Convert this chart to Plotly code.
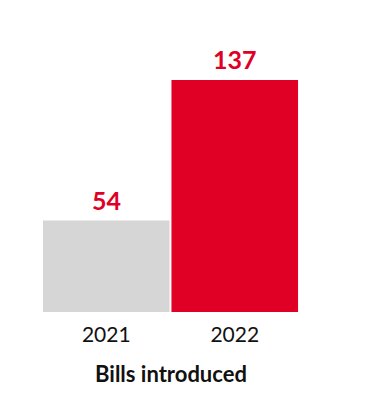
import plotly.graph_objects as go

years = ["2021", "2022"]
bills = [54, 137]
bar_colors = ["#d6d6d6", "#e00025"]
label_color = "#e00025"
title_text = "Bills introduced"

pos = list(range(len(years)))

fig = go.Figure()
fig.add_trace(go.Bar(
    x=pos, y=bills,
    marker=dict(color=bar_colors, line=dict(width=0)),
    hoverinfo="skip",
))

for p, v in zip(pos, bills):
    fig.add_annotation(
        x=p, y=v, xref="x", yref="y",
        text=f"<b>{v}</b>", showarrow=False,
        yanchor="bottom", yshift=4,
        font=dict(family="Lato", size=25, color=label_color),
    )

fig.add_annotation(
    x=0.5, y=0, xref="paper", yref="paper",
    text=f"<b>{title_text}</b>", showarrow=False,
    yanchor="middle", yshift=-61,
    font=dict(family="Lato", size=22, color="#111111"),
)

fig.update_layout(
    width=380, height=414,
    margin=dict(l=34, r=89, t=50, b=110),
    paper_bgcolor="white", plot_bgcolor="white",
    bargap=0.015,
    showlegend=False,
    xaxis=dict(
        range=[-0.5, len(years) - 0.5],
        tickvals=pos, ticktext=years,
        showgrid=False, zeroline=False, showline=False,
        ticks="outside", ticklen=4, tickcolor="rgba(0,0,0,0)",
        tickfont=dict(family="Lato", size=21, color="#111111"),
    ),
    yaxis=dict(range=[0, 150], visible=False, showgrid=False, zeroline=False),
)

fig.write_html("out.html")
